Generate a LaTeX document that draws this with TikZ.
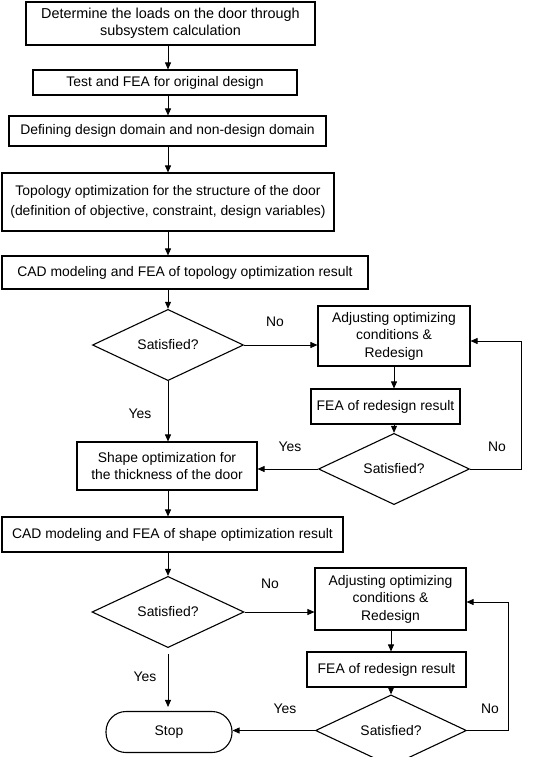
\documentclass[tikz,border=0pt]{standalone}
\usepackage{fontspec}
\setmainfont{Liberation Sans}
\usetikzlibrary{shapes.geometric,arrows.meta}
\tikzset{stepbox/.style={draw,line width=1.1pt,rectangle,align=center,inner sep=0pt}}
\tikzset{check/.style={draw,line width=1.1pt,diamond,inner sep=0pt}}
\tikzset{lbl/.style={inner sep=0pt}}
\tikzset{arr/.style={-{Triangle[length=7pt,width=6pt]},line width=0.8pt}}

\begin{document}
\begin{tikzpicture}[x=1pt,y=-1pt,font=\fontsize{13.9}{17.5}\selectfont]
	\useasboundingbox (0,0) rectangle (557,757);
	% main column
	\node[stepbox,minimum width=289pt,minimum height=43pt,font=\fontsize{14.4}{17.5}\selectfont] (load) at (170.5,23.5) {Determine the loads on the door through\\subsystem calculation};
	\node[stepbox,minimum width=264pt,minimum height=25pt] (test) at (165,82.5) {Test and FEA for original design};
	\node[stepbox,minimum width=317pt,minimum height=30pt] (domain) at (167.5,131) {Defining design domain and non-design domain};
	\node[stepbox,minimum width=332pt,minimum height=58pt] (topo) at (168,202) {Topology optimization for the structure of the door\\[2.5pt](definition of objective, constraint, design variables)};
	\node[stepbox,minimum width=366pt,minimum height=33pt] (cadtopo) at (185,272.5) {CAD modeling and FEA of topology optimization result};
	\node[check,minimum width=151pt,minimum height=68pt] (sat1) at (168,345) {Satisfied?};
	\node[stepbox,minimum width=180pt,minimum height=48pt] (shape) at (167,466) {Shape optimization for\\the thickness of the door};
	\node[stepbox,minimum width=341pt,minimum height=35pt] (cadshape) at (172.5,534.5) {CAD modeling and FEA of shape optimization result};
	\node[check,minimum width=152pt,minimum height=70pt] (sat3) at (168,612) {Satisfied?};
	\node[stepbox,rounded corners=20pt,minimum width=126pt,minimum height=41pt] (stop) at (169,732) {Stop};
	% redesign loops
	\node[stepbox,minimum width=152pt,minimum height=60pt] (adj1) at (394,336) {Adjusting optimizing\\conditions \&\\Redesign};
	\node[stepbox,minimum width=149pt,minimum height=35pt] (fea1) at (385.5,406.5) {FEA of redesign result};
	\node[check,minimum width=151pt,minimum height=46pt] (sat2) at (394,469) {Satisfied?};
	\node[stepbox,minimum width=151pt,minimum height=62pt] (adj2) at (390.5,599) {Adjusting optimizing\\conditions \&\\Redesign};
	\node[stepbox,minimum width=159pt,minimum height=35pt] (fea2) at (386.5,669.5) {FEA of redesign result};
	\node[check,minimum width=151pt,minimum height=44pt] (sat4) at (391,730.5) {Satisfied?};
	\coordinate (loop1) at (521,341);
	\coordinate (loop2) at (508,602);

	\node[lbl] (no1) at (275,322) {No};
	\node[lbl] (yes1) at (140,414) {Yes};
	\node[lbl] (yes2) at (290,447) {Yes};
	\node[lbl] (no2) at (497,447) {No};
	\node[lbl] (no3) at (270,584) {No};
	\node[lbl] (yes3) at (145,677) {Yes};
	\node[lbl] (yes4) at (285,709) {Yes};
	\node[lbl] (no4) at (490,709) {No};

	\draw[arr] (load.south -| sat1) -- (test.north -| sat1);
	\draw[arr] (test.south -| sat1) -- (domain.north -| sat1);
	\draw[arr] (domain.south -| sat1) -- (topo.north -| sat1);
	\draw[arr] (topo.south -| sat1) -- (cadtopo.north -| sat1);
	\draw[arr] (cadtopo.south -| sat1) -- (sat1.north);
	\draw[arr] (sat1.east) -- (sat1 -| adj1.west);
	\draw[arr] (adj1.south) -- (fea1.north -| adj1);
	\draw[arr] (fea1.south -| sat2) -- (sat2.north);
	\draw[arr] (sat2.west) -- (sat2 -| shape.east);
	\draw[arr] (sat2.east) -| (loop1) -- (loop1 -| adj1.east);
	\draw[arr] (sat1.south) -- (shape.north -| sat1);
	\draw[arr] (shape.south -| sat1) -- (cadshape.north -| sat1);
	\draw[arr] (cadshape.south -| sat3) -- (sat3.north);
	\draw[arr] (sat3.east) -- (sat3 -| adj2.west);
	\draw[arr] (adj2.south -| sat4) -- (fea2.north -| sat4);
	\draw[arr] (fea2.south -| sat4) -- (sat4.north);
	\draw[arr] (sat4.west) -- (sat4 -| stop.east);
	\draw[arr] (sat4.east) -| (loop2) -- (loop2 -| adj2.east);
	\draw[arr,shorten <=6pt,shorten >=4pt] (sat3.south) -- (stop.north -| sat3);
\end{tikzpicture}
\end{document}
